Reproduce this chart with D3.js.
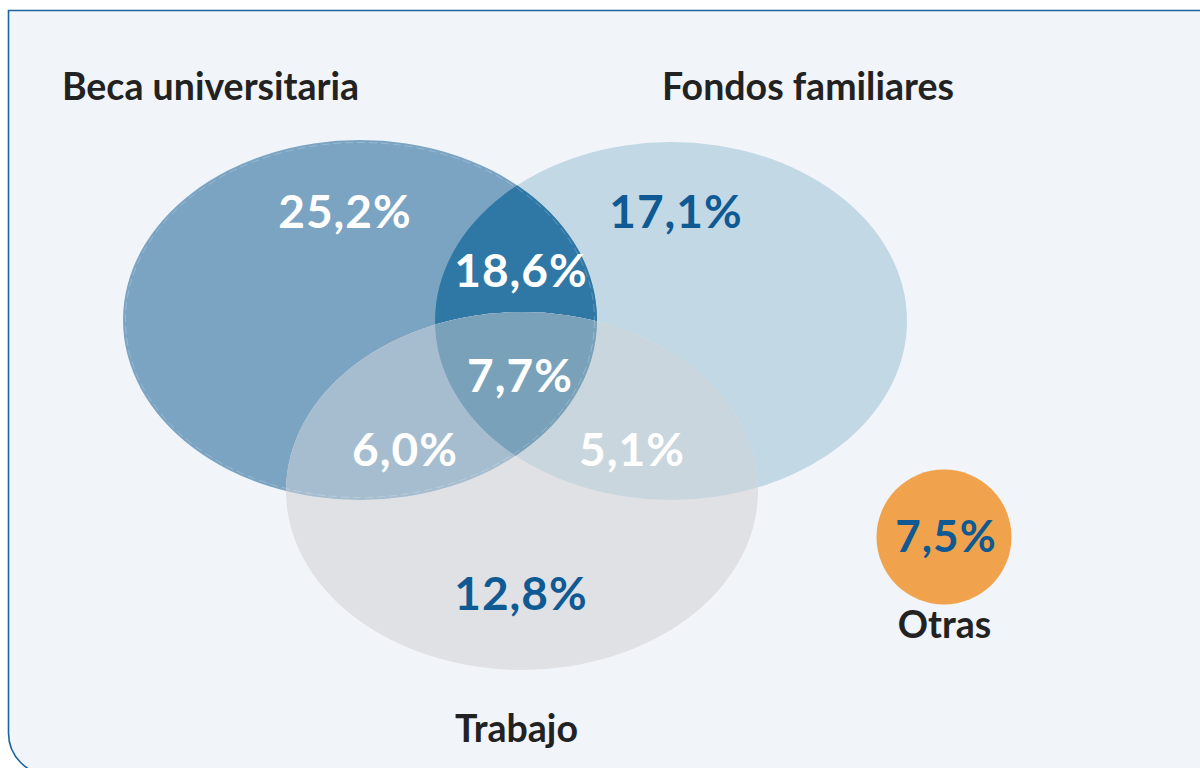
<!DOCTYPE html>
<html><head><meta charset="utf-8">
<script src="https://cdn.jsdelivr.net/npm/d3@7"></script>
<style>html,body{margin:0;padding:0;background:#fff;}svg{display:block;}</style>
</head><body>
<svg id="c" width="1200" height="768"></svg>
<script>
// ---- data ----
const setNames = ["Beca universitaria", "Fondos familiares", "Trabajo"];
const regionKeys = ["B", "F", "T", "BF", "BT", "FT", "BFT"];
const regionValues = [25.2, 17.1, 12.8, 18.6, 6.0, 5.1, 7.7];
const otherName = "Otras";
const otherValue = 7.5;

// ---- layout ----
const svg = d3.select("#c");
const fmt = v => d3.format(".1f")(v).replace(".", ",") + "%";

svg.append("path")
  .attr("d", "M1202,10.5 H8.5 V733 A42,42 0 0 0 50.5,775 H1202 Z")
  .attr("fill", "#f1f4f9").attr("stroke", "#1d63a0").attr("stroke-width", 1.6);

const ellipses = [
  {cx: 360, cy: 320, rx: 237, ry: 180},
  {cx: 671, cy: 321, rx: 236, ry: 179},
  {cx: 522, cy: 491, rx: 236, ry: 179}
];
const defs = svg.append("defs");
ellipses.forEach((e, i) => {
  defs.append("clipPath").attr("id", "clip" + i)
    .append("ellipse").attr("cx", e.cx).attr("cy", e.cy).attr("rx", e.rx).attr("ry", e.ry);
});
defs.append("clipPath").attr("id", "clip01").attr("clip-path", "url(#clip0)")
  .append("ellipse").attr("cx", ellipses[1].cx).attr("cy", ellipses[1].cy).attr("rx", ellipses[1].rx).attr("ry", ellipses[1].ry);

const fills = {B: "#7ba4c3", F: "#c2d8e5", T: "#e0e1e5", BF: "#2f78a5", BT: "#a6bdcf", FT: "#cad6de", BFT: "#79a2ba"};
const g = svg.append("g");
function ell(e, fill, clip) {
  const el = g.append("ellipse").attr("cx", e.cx).attr("cy", e.cy).attr("rx", e.rx).attr("ry", e.ry).attr("fill", fill);
  if (clip) el.attr("clip-path", "url(#" + clip + ")");
  return el;
}
ell(ellipses[1], fills.F);
ell(ellipses[0], fills.B);
ell(ellipses[1], fills.BF, "clip0");
ell(ellipses[2], fills.T);
ell(ellipses[2], fills.FT, "clip1");
ell(ellipses[2], fills.BT, "clip0");
ell(ellipses[2], fills.BFT, "clip01");
g.append("ellipse").attr("cx", 360).attr("cy", 320).attr("rx", 234.5).attr("ry", 177.5)
  .attr("fill", "none").attr("stroke", "rgba(255,255,255,0.22)").attr("stroke-width", 1).attr("stroke-dasharray", "8,4");

// region labels
const regionPos = {B: [345, 228], F: [676, 228], T: [521, 610], BF: [521, 287], BT: [405, 466], FT: [632, 466], BFT: [520, 392]};
const regionColor = {B: "#fff", F: "#0f5a93", T: "#0f5a93", BF: "#fff", BT: "#fff", FT: "#fff", BFT: "#fff"};
const font = "Lato, 'Open Sans', sans-serif";
regionKeys.forEach((k, i) => {
  svg.append("text").attr("x", regionPos[k][0]).attr("y", regionPos[k][1])
    .attr("text-anchor", "middle").attr("font-family", font).attr("font-weight", 700)
    .attr("font-size", 46).attr("letter-spacing", 1).attr("fill", regionColor[k]).text(fmt(regionValues[i]));
});

// set titles
const titlePos = [[210.5, 100], [808, 100], [516.5, 742]];
setNames.forEach((n, i) => {
  svg.append("text").attr("x", titlePos[i][0]).attr("y", titlePos[i][1])
    .attr("text-anchor", "middle").attr("font-family", font).attr("font-weight", 700)
    .attr("font-size", 37.5).attr("fill", "#222").text(n);
});

// other
svg.append("circle").attr("cx", 944).attr("cy", 537).attr("r", 67.5).attr("fill", "#f0a34c");
svg.append("text").attr("x", 946).attr("y", 552).attr("text-anchor", "middle")
  .attr("font-family", font).attr("font-weight", 700).attr("font-size", 44).attr("letter-spacing", 1)
  .attr("fill", "#0f5a93").text(fmt(otherValue));
svg.append("text").attr("x", 944.5).attr("y", 638).attr("text-anchor", "middle")
  .attr("font-family", font).attr("font-weight", 700).attr("font-size", 37.5).attr("fill", "#222").text(otherName);
</script>
</body></html>
